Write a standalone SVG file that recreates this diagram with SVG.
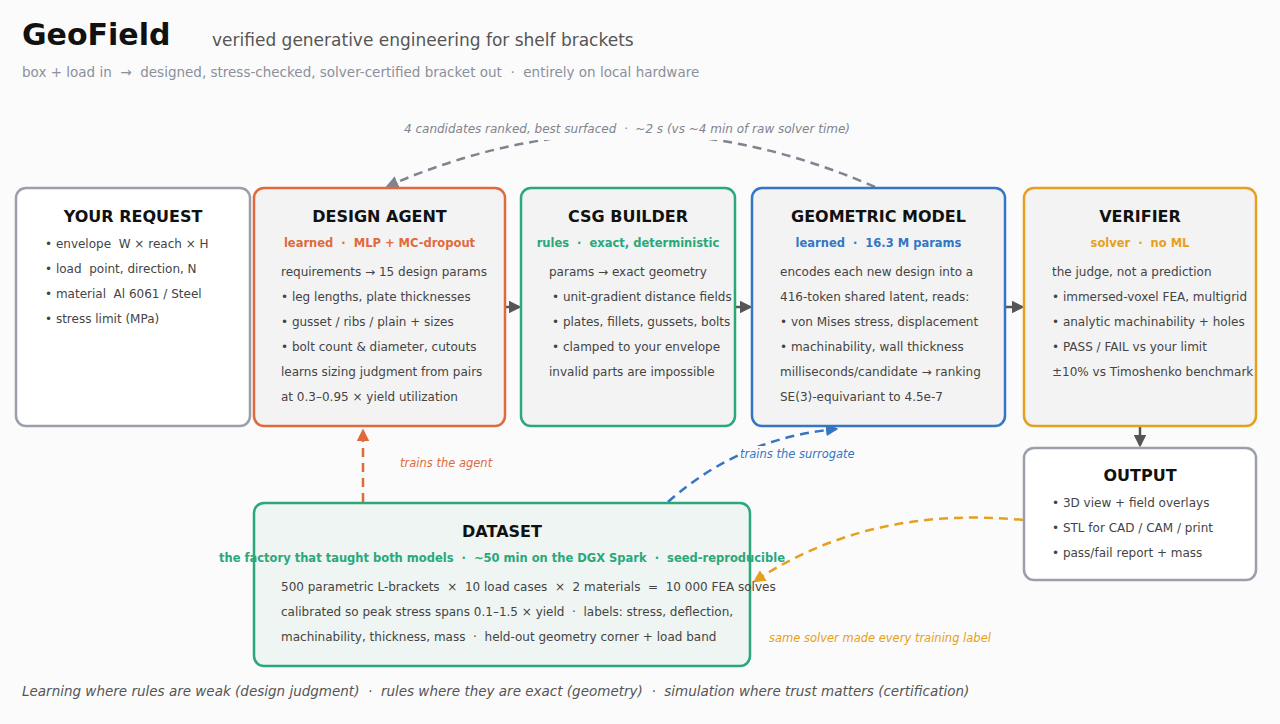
<svg xmlns="http://www.w3.org/2000/svg" width="1280" height="724" viewBox="0 0 1280 724">
<defs>
<style>
text{font-family:"DejaVu Sans","Noto Sans",sans-serif;white-space:pre}
.h1{font-size:30px;font-weight:bold;fill:#111}
.sub{font-size:17px;fill:#555}
.tag{font-size:13.5px;fill:#8a909c}
.t{font-size:16px;font-weight:bold;fill:#111;text-anchor:middle}
.s{font-size:11.5px;font-weight:bold;text-anchor:middle}
.b{font-size:12px;fill:#444}
.lab{font-size:11.5px;font-style:italic}
.foot{font-size:13.5px;font-style:italic;fill:#555}
.box{stroke-width:2.5}
.solid{stroke:#555;stroke-width:2.5;fill:none}
.dash{stroke-width:2.5;fill:none;stroke-dasharray:9 6}
</style>
<marker id="ag" viewBox="0 0 10 10" refX="8" refY="5" markerWidth="5" markerHeight="5" orient="auto"><path d="M0,0L10,5L0,10z" fill="#555"/></marker>
<marker id="agr" viewBox="0 0 10 10" refX="8" refY="5" markerWidth="5" markerHeight="5" orient="auto"><path d="M0,0L10,5L0,10z" fill="#80848f"/></marker>
<marker id="ao" viewBox="0 0 10 10" refX="8" refY="5" markerWidth="5" markerHeight="5" orient="auto"><path d="M0,0L10,5L0,10z" fill="#e06a3c"/></marker>
<marker id="ab" viewBox="0 0 10 10" refX="8" refY="5" markerWidth="5" markerHeight="5" orient="auto"><path d="M0,0L10,5L0,10z" fill="#3476c4"/></marker>
<marker id="ay" viewBox="0 0 10 10" refX="8" refY="5" markerWidth="5" markerHeight="5" orient="auto"><path d="M0,0L10,5L0,10z" fill="#e6a020"/></marker>
</defs>
<rect width="1280" height="724" fill="#fbfbfb"/>

<g id="header">
<text class="h1" x="22" y="45">GeoField</text>
<text class="sub" x="212" y="46">verified generative engineering for shelf brackets</text>
<text class="tag" x="22" y="77">box + load in  →  designed, stress-checked, solver-certified bracket out  ·  entirely on local hardware</text>
</g>

<g id="connectors">
<line class="solid" x1="505" y1="307" x2="519" y2="307" marker-end="url(#ag)"/>
<line class="solid" x1="735" y1="307" x2="750" y2="307" marker-end="url(#ag)"/>
<line class="solid" x1="1005" y1="307" x2="1022" y2="307" marker-end="url(#ag)"/>
<line class="solid" x1="1140" y1="427" x2="1140" y2="445" marker-end="url(#ag)"/>
<path class="dash" stroke="#80848f" d="M875,187 Q631,80 388,186" marker-end="url(#agr)"/>
<rect x="392" y="118" width="470" height="22" fill="#fbfbfb"/>
<text class="lab" x="627" y="133" text-anchor="middle" fill="#80848f" style="font-size:12px">4 candidates ranked, best surfaced  ·  ~2 s (vs ~4 min of raw solver time)</text>
<line class="dash" stroke="#e06a3c" x1="363" y1="502" x2="363" y2="431" marker-end="url(#ao)"/>
<text class="lab" x="400" y="467" fill="#e06a3c">trains the agent</text>
<path class="dash" stroke="#3476c4" d="M668,502 Q740,438 836,429" marker-end="url(#ab)"/>
<rect x="739" y="446" width="118" height="16" fill="#fbfbfb"/>
<text class="lab" x="740" y="458" fill="#3476c4">trains the surrogate</text>
<path class="dash" stroke="#e6a020" d="M1023,520 Q870,505 755,581" marker-end="url(#ay)"/>
<text class="lab" x="769" y="642" fill="#e6a020">same solver made every training label</text>
</g>

<g id="request">
<rect class="box" x="16" y="188" width="234" height="238" rx="10" fill="#ffffff" stroke="#9a9faa"/>
<text class="t" x="133" y="222">YOUR REQUEST</text>
<text class="b" x="45" y="248">• envelope  W × reach × H</text>
<text class="b" x="45" y="273">• load  point, direction, N</text>
<text class="b" x="45" y="298">• material  Al 6061 / Steel</text>
<text class="b" x="45" y="323">• stress limit (MPa)</text>
</g>

<g id="agent">
<rect class="box" x="254" y="188" width="251" height="238" rx="10" fill="#f3f3f3" stroke="#e06a3c"/>
<text class="t" x="379.5" y="222">DESIGN AGENT</text>
<text class="s" x="379.5" y="247" fill="#e06a3c">learned  ·  MLP + MC-dropout</text>
<text class="b" x="281" y="276">requirements → 15 design params</text>
<text class="b" x="281" y="301">• leg lengths, plate thicknesses</text>
<text class="b" x="281" y="326">• gusset / ribs / plain + sizes</text>
<text class="b" x="281" y="351">• bolt count &amp; diameter, cutouts</text>
<text class="b" x="281" y="376">learns sizing judgment from pairs</text>
<text class="b" x="281" y="401">at 0.3–0.95 × yield utilization</text>
</g>

<g id="csg">
<rect class="box" x="521" y="188" width="214" height="238" rx="10" fill="#f3f3f3" stroke="#2aa87a"/>
<text class="t" x="628" y="222">CSG BUILDER</text>
<text class="s" x="628" y="247" fill="#2aa87a">rules  ·  exact, deterministic</text>
<text class="b" x="549" y="276">params → exact geometry</text>
<text class="b" x="552" y="301">• unit-gradient distance fields</text>
<text class="b" x="552" y="326">• plates, fillets, gussets, bolts</text>
<text class="b" x="552" y="351">• clamped to your envelope</text>
<text class="b" x="549" y="376">invalid parts are impossible</text>
</g>

<g id="geometric">
<rect class="box" x="752" y="188" width="253" height="238" rx="10" fill="#f3f3f3" stroke="#3476c4"/>
<text class="t" x="878.5" y="222">GEOMETRIC MODEL</text>
<text class="s" x="878.5" y="247" fill="#3476c4">learned  ·  16.3 M params</text>
<text class="b" x="780" y="276">encodes each new design into a</text>
<text class="b" x="780" y="301">416-token shared latent, reads:</text>
<text class="b" x="780" y="326">• von Mises stress, displacement</text>
<text class="b" x="780" y="351">• machinability, wall thickness</text>
<text class="b" x="780" y="376">milliseconds/candidate → ranking</text>
<text class="b" x="780" y="401">SE(3)-equivariant to 4.5e-7</text>
</g>

<g id="verifier">
<rect class="box" x="1024" y="188" width="232" height="238" rx="10" fill="#f3f3f3" stroke="#e6a020"/>
<text class="t" x="1140" y="222">VERIFIER</text>
<text class="s" x="1140" y="247" fill="#e6a020">solver  ·  no ML</text>
<text class="b" x="1052" y="276">the judge, not a prediction</text>
<text class="b" x="1052" y="301">• immersed-voxel FEA, multigrid</text>
<text class="b" x="1052" y="326">• analytic machinability + holes</text>
<text class="b" x="1052" y="351">• PASS / FAIL vs your limit</text>
<text class="b" x="1052" y="376">±10% vs Timoshenko benchmark</text>
</g>

<g id="output">
<rect class="box" x="1024" y="448" width="232" height="132" rx="10" fill="#ffffff" stroke="#9a9faa"/>
<text class="t" x="1140" y="481">OUTPUT</text>
<text class="b" x="1052" y="507">• 3D view + field overlays</text>
<text class="b" x="1052" y="532">• STL for CAD / CAM / print</text>
<text class="b" x="1052" y="557">• pass/fail report + mass</text>
</g>

<g id="dataset">
<rect class="box" x="254" y="503" width="496" height="163" rx="10" fill="#eef5f2" stroke="#2aa87a"/>
<text class="t" x="502" y="537">DATASET</text>
<text class="s" x="502" y="562" fill="#2aa87a">the factory that taught both models  ·  ~50 min on the DGX Spark  ·  seed-reproducible</text>
<text class="b" x="281" y="591">500 parametric L-brackets  ×  10 load cases  ×  2 materials  =  10 000 FEA solves</text>
<text class="b" x="281" y="616">calibrated so peak stress spans 0.1–1.5 × yield  ·  labels: stress, deflection,</text>
<text class="b" x="281" y="641">machinability, thickness, mass  ·  held-out geometry corner + load band</text>
</g>

<g id="footer">
<text class="foot" x="22" y="696">Learning where rules are weak (design judgment)  ·  rules where they are exact (geometry)  ·  simulation where trust matters (certification)</text>
</g>
</svg>
